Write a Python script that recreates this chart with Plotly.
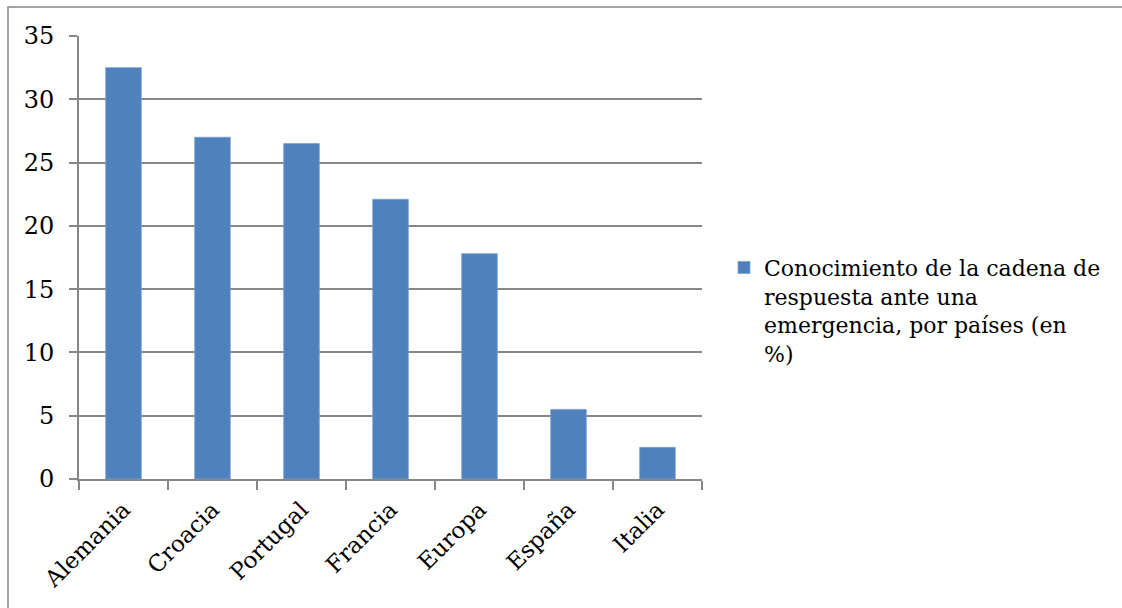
import plotly.graph_objects as go

categories = ["Alemania", "Croacia", "Portugal", "Francia", "Europa", "España", "Italia"]
values = [32.5, 27.0, 26.5, 22.1, 17.8, 5.5, 2.5]
series_name = "Conocimiento de la cadena de<br>respuesta ante una<br>emergencia, por países (en<br>%)"
y_ticks = [0, 5, 10, 15, 20, 25, 30, 35]

GRAY = "#878787"
FONT = "DejaVu Serif"

fig = go.Figure()
fig.add_trace(go.Bar(
    x=categories, y=values, name=series_name,
    marker=dict(color="#4F81BD", line=dict(color="#7A9FCF", width=0.8)),
    showlegend=True,
))

fig.update_layout(
    width=1122, height=608,
    margin=dict(l=79, r=420, t=36, b=129),
    paper_bgcolor="white", plot_bgcolor="white",
    bargap=0.6,
    font=dict(family=FONT, color="black", size=22),
    showlegend=True,
    legend=dict(
        x=(724 - 79) / 623, y=0.38, xanchor="left", yanchor="middle",
        valign="top",
        font=dict(family=FONT, size=22, color="black"),
        itemwidth=30, tracegroupgap=0,
        bgcolor="rgba(0,0,0,0)",
    ),
    xaxis=dict(
        type="category",
        showgrid=False,
        showline=True, linecolor=GRAY, linewidth=2,
        ticks="outside", tickson="boundaries", ticklen=9, tickcolor=GRAY, tickwidth=2,
        tickangle=-45,
        ticklabelstandoff=6,
        tickfont=dict(family=FONT, size=23, color="black"),
    ),
    yaxis=dict(
        range=[0, 35],
        tickvals=y_ticks,
        showgrid=True, gridcolor=GRAY, gridwidth=2,
        showline=True, linecolor=GRAY, linewidth=2,
        ticks="outside", ticklen=8, tickcolor=GRAY, tickwidth=2,
        ticklabelstandoff=10,
        zeroline=False,
        tickfont=dict(family=FONT, size=24, color="black"),
    ),
    shapes=[dict(
        type="rect", xref="paper", yref="paper",
        x0=(8 - 79) / 623, x1=(1140 - 79) / 623,
        y0=(479 - 640) / 443, y1=(479 - 7) / 443,
        line=dict(color=GRAY, width=1.5), fillcolor="rgba(0,0,0,0)", layer="below",
    )],
)

fig.write_html("out.html")
